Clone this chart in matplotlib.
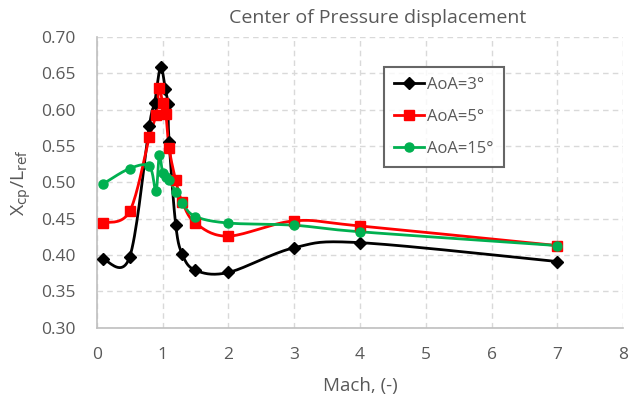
import numpy as np
import matplotlib
matplotlib.use("Agg")
import matplotlib.pyplot as plt

# Mach numbers and Xcp/Lref
mach_3 = [0.1, 0.5, 0.8, 0.88, 0.97, 1.04, 1.08, 1.1, 1.2, 1.3, 1.5, 2.0, 3.0, 4.0, 7.0]
xcp_3 = [0.394, 0.397, 0.578, 0.609, 0.659, 0.629, 0.608, 0.556, 0.442, 0.401, 0.379, 0.376, 0.410, 0.417, 0.391]

mach_5 = [0.1, 0.5, 0.8, 0.9, 0.95, 1.0, 1.05, 1.1, 1.2, 1.3, 1.5, 2.0, 3.0, 4.0, 7.0]
xcp_5 = [0.444, 0.460, 0.562, 0.593, 0.630, 0.609, 0.594, 0.547, 0.503, 0.473, 0.444, 0.426, 0.447, 0.440, 0.413]

mach_15 = [0.1, 0.5, 0.8, 0.9, 0.95, 1.0, 1.05, 1.1, 1.2, 1.3, 1.5, 2.0, 3.0, 4.0, 7.0]
xcp_15 = [0.498, 0.519, 0.522, 0.488, 0.538, 0.513, 0.508, 0.503, 0.487, 0.471, 0.453, 0.444, 0.441, 0.432, 0.413]

series = [
    ("AoA=3°", mach_3, xcp_3, "#000000", "D", 6),
    ("AoA=5°", mach_5, xcp_5, "#FF0000", "s", 6.5),
    ("AoA=15°", mach_15, xcp_15, "#00B050", "o", 6.5),
]

TXT = "#595959"
plt.rcParams["font.family"] = ["Open Sans", "DejaVu Sans"]


def smooth(x, y, n=20):
    # Excel-style smoothed line: cubic Bezier through the points (Catmull-Rom tangents)
    p = np.column_stack([x, y]).astype(float)
    p = np.vstack([p[0], p, p[-1]])
    out = []
    for i in range(1, len(p) - 2):
        p0, p1, p2, p3 = p[i - 1], p[i], p[i + 1], p[i + 2]
        c1 = p1 + (p2 - p0) / 6
        c2 = p2 - (p3 - p1) / 6
        t = np.linspace(0, 1, n)[:, None]
        seg = (1 - t) ** 3 * p1 + 3 * (1 - t) ** 2 * t * c1 + 3 * (1 - t) * t ** 2 * c2 + t ** 3 * p2
        out.append(seg if i == 1 else seg[1:])
    seg = np.vstack(out)
    return seg[:, 0], seg[:, 1]


fig = plt.figure(figsize=(6.29, 3.99), dpi=100)
# plot area: x 96.7..623.3 px, y 37..327.7 px
ax = fig.add_axes([96.7 / 629, 1 - 327.7 / 399, 526.6 / 629, 290.7 / 399])

for label, mx, vy, col, mk, ms in series:
    sx, sy = smooth(mx, vy)
    ax.plot(sx, sy, color=col, lw=2, zorder=3)
    ax.plot(mx, vy, ls="none", marker=mk, ms=ms, color=col, zorder=4)
    ax.plot([], [], color=col, lw=2, marker=mk, ms=ms, label=label)

ax.set_xlim(0, 8)
ax.set_ylim(0.30, 0.70)
ax.set_xticks(range(0, 9))
ax.set_yticks(np.arange(0.30, 0.701, 0.05))
ax.set_yticklabels([f"{v:.2f}" for v in np.arange(0.30, 0.701, 0.05)])
ax.grid(True, color="#d9d9d9", ls=(0, (4, 3)), lw=1)
ax.set_axisbelow(True)
for s in ["top", "right"]:
    ax.spines[s].set_visible(False)
for s in ["left", "bottom"]:
    ax.spines[s].set_color("#bfbfbf")
    ax.spines[s].set_linewidth(1.2)
ax.tick_params(length=0, labelsize=12.5, colors=TXT)
ax.tick_params(axis="y", pad=15)
ax.tick_params(axis="x", pad=14)

ax.set_xlabel("Mach, (-)", fontsize=13.5, color=TXT, labelpad=10)
ax.set_ylabel(r"X$_{\rm cp}$/L$_{\rm ref}$", fontsize=14, color=TXT, labelpad=6)
fig.text(0.6, 0.955, "Center of Pressure displacement", ha="center", va="center",
         fontsize=14, color=TXT)

leg = ax.legend(loc="upper left", bbox_to_anchor=(0.545, 0.896), fontsize=12,
                frameon=True, fancybox=False, handlelength=1.8, handletextpad=0.2,
                labelspacing=0.95, borderpad=0.6, borderaxespad=0, labelcolor=TXT)
leg.get_frame().set_edgecolor("#404040")
leg.get_frame().set_linewidth(1.5)

fig.savefig("out.png", dpi=100)
